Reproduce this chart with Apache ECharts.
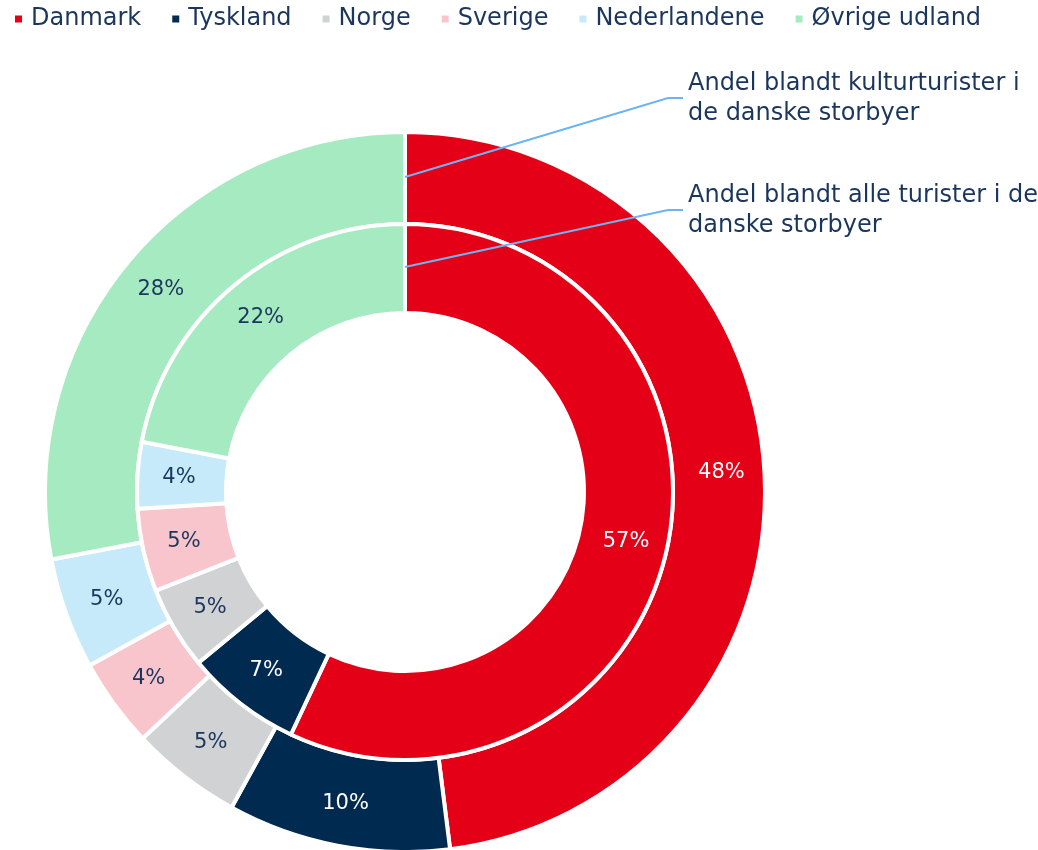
<!DOCTYPE html>
<html>
<head>
<meta charset="utf-8">
<script src="https://cdn.jsdelivr.net/npm/echarts@6/dist/echarts.min.js"></script>
<style>
html,body{margin:0;padding:0;background:#fff;}
#chart{width:1038px;height:850px;}
</style>
</head>
<body>
<div id="chart"></div>
<script>
const categories = ['Danmark', 'Tyskland', 'Norge', 'Sverige', 'Nederlandene', 'Øvrige udland'];
const kulturturister = [48, 10, 5, 4, 5, 28];   // outer ring
const alleTurister = [57, 7, 5, 5, 4, 22];      // inner ring
const colors = ['#E40017', '#002A4F', '#D0D2D3', '#F8C5CC', '#C6EAFA', '#A5EAC0'];
const labelColors = ['#FFFFFF', '#FFFFFF', '#1B365D', '#1B365D', '#1B365D', '#1B365D'];
const annotationTexts = ['Andel blandt kulturturister i\nde danske storbyer', 'Andel blandt alle turister i de\ndanske storbyer'];

const FONT = 'DejaVu Sans';
const NAVY = '#1B365D';

function buildData(vals) {
  return categories.map((c, i) => ({
    name: c,
    value: vals[i],
    itemStyle: { color: colors[i] },
    label: { color: labelColors[i] }
  }));
}

const chart = echarts.init(document.getElementById('chart'), null, { renderer: 'canvas' });
const cx = 405, cy = 492;
const option = {
  animation: false,
  legend: {
    left: 8, top: 2,
    icon: 'rect',
    itemWidth: 9, itemHeight: 9,
    itemGap: 29,
    textStyle: { fontFamily: FONT, fontSize: 24, color: NAVY, padding: [0, 0, 0, 3] },
    data: categories
  },
  series: [
    {
      name: 'Andel blandt kulturturister',
      type: 'pie',
      center: [cx, cy],
      radius: [268, 360],
      startAngle: 90,
      clockwise: true,
      avoidLabelOverlap: false,
      itemStyle: { borderColor: '#fff', borderWidth: 4 },
      label: { show: true, position: 'inside', formatter: '{c}%', fontFamily: FONT, fontSize: 21 },
      labelLine: { show: false },
      emphasis: { disabled: true },
      data: buildData(kulturturister)
    },
    {
      name: 'Andel blandt alle turister',
      type: 'pie',
      center: [cx, cy],
      radius: [179, 268],
      startAngle: 90,
      clockwise: true,
      avoidLabelOverlap: false,
      itemStyle: { borderColor: '#fff', borderWidth: 4 },
      label: { show: true, position: 'inside', formatter: '{c}%', fontFamily: FONT, fontSize: 21 },
      labelLine: { show: false },
      emphasis: { disabled: true },
      data: buildData(alleTurister)
    }
  ],
  graphic: [
    { type: 'polyline', z: 100, shape: { points: [[cx, 177], [668, 98], [683, 98]] }, style: { stroke: '#6CB4F4', lineWidth: 2, fill: null } },
    { type: 'polyline', z: 100, shape: { points: [[cx, 267], [668, 210], [683, 210]] }, style: { stroke: '#6CB4F4', lineWidth: 2, fill: null } },
    { type: 'text', left: 688, top: 69, style: { text: annotationTexts[0], font: '24px "' + FONT + '"', fill: NAVY, lineHeight: 30 } },
    { type: 'text', left: 688, top: 181, style: { text: annotationTexts[1], font: '24px "' + FONT + '"', fill: NAVY, lineHeight: 30 } }
  ]
};
chart.setOption(option);
</script>
</body>
</html>
